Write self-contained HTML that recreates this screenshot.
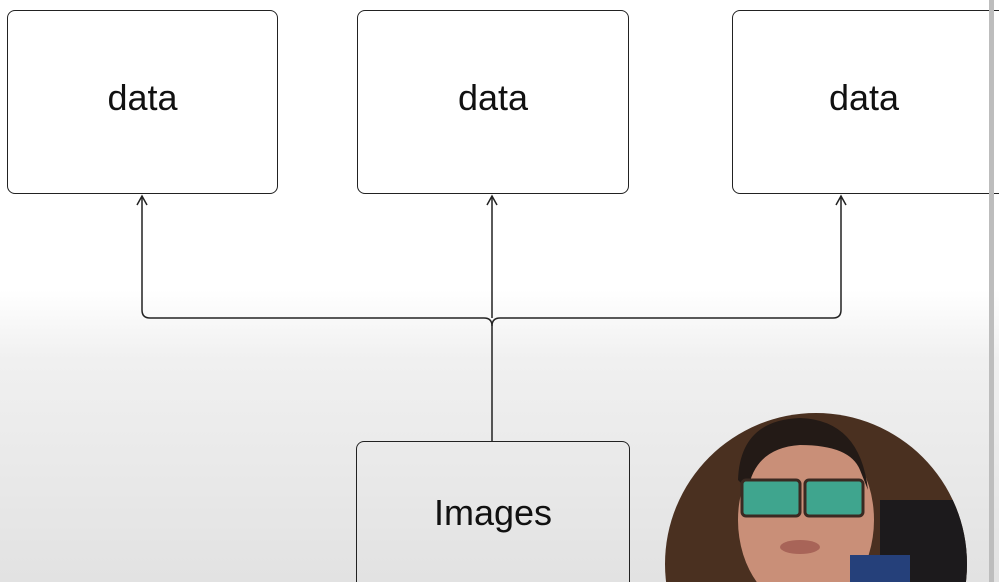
<!DOCTYPE html>
<html><head><style>
html,body{margin:0;padding:0;width:999px;height:582px;overflow:hidden}
body{position:relative;background:linear-gradient(#fff 0,#fff 290px,#f0f0f0 360px,#e2e2e2 582px);font-family:"Liberation Sans",sans-serif}
.box{position:absolute;border:1.5px solid #222;border-radius:8px;box-sizing:border-box;background:transparent;display:flex;align-items:center;justify-content:center;font-size:36px;color:#111;padding-bottom:8px}
</style></head><body>
<div class="box" style="left:7px;top:10px;width:271px;height:184px;background:#fff">data</div>
<div class="box" style="left:357px;top:10px;width:272px;height:184px;background:#fff">data</div>
<div class="box" style="left:732px;top:10px;width:275px;height:184px;background:#fff;justify-content:flex-start;padding-left:96px">data</div>
<div class="box" style="left:356px;top:441px;width:274px;height:141px;border-bottom:none;border-radius:8px 8px 0 0;align-items:flex-start;padding-top:50px">Images</div>
<div style="position:absolute;left:989px;top:0;width:5px;height:582px;background:#bdbdbd"></div>
<svg width="999" height="582" style="position:absolute;left:0;top:0">
<g fill="none" stroke="#222" stroke-width="1.5">
<path d="M142 196 V310 Q142 318 150 318 H484 Q492 318 492 326 V441"/>
<path d="M492 196 V318"/>
<path d="M492 326 Q492 318 500 318 H833 Q841 318 841 310 V196"/>
<path d="M137 205 L142 196 L147 205 M487 205 L492 196 L497 205 M836 205 L841 196 L846 205"/>
</g>
<defs><clipPath id="c"><circle cx="816" cy="564" r="151"/></clipPath></defs>
<g clip-path="url(#c)">
<rect x="660" y="410" width="320" height="180" fill="#4a3020"/>
<rect x="880" y="500" width="90" height="90" fill="#1c1a1c"/>
<ellipse cx="806" cy="520" rx="68" ry="90" fill="#c98f78"/>
<path d="M738 480 Q740 420 800 418 Q860 420 868 490 L860 470 Q850 445 800 445 Q755 448 748 490 Z" fill="#231a16"/>
<rect x="742" y="480" width="58" height="36" rx="4" fill="#3fa58e" stroke="#3a2a22" stroke-width="3"/>
<rect x="805" y="480" width="58" height="36" rx="4" fill="#3fa58e" stroke="#3a2a22" stroke-width="3"/>
<ellipse cx="800" cy="547" rx="20" ry="7" fill="#a86458"/>
<rect x="850" y="555" width="60" height="30" fill="#25407a"/>
</g>
</svg>
</body></html>
